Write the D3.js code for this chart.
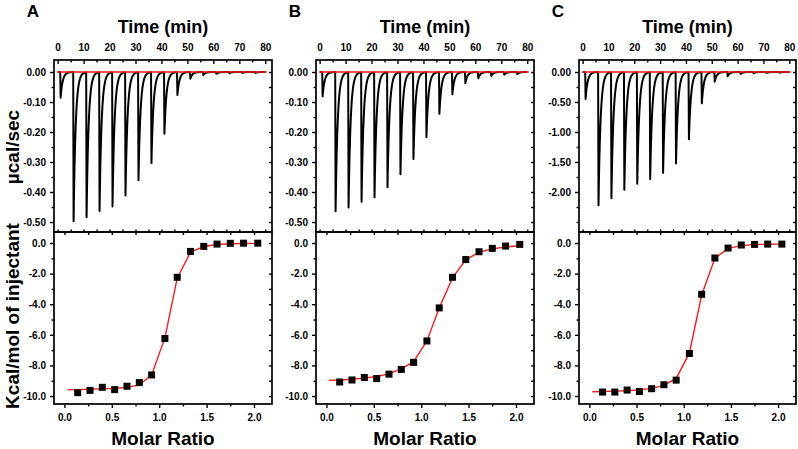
<!DOCTYPE html>
<html><head><meta charset="utf-8">
<script src="https://cdn.jsdelivr.net/npm/d3@7"></script>
<style>
body{margin:0;background:#fff}
svg{display:block}
text{font-family:"Liberation Sans",Arial,Helvetica,sans-serif;font-weight:bold;fill:#000}
</style>
</head><body>
<svg id="chart" width="798" height="449"></svg>
<script>
// ---------- data ----------
const panelLabels = ["A", "B", "C"];
const injectionTimes = [1, 6, 11, 16, 21, 26, 31, 36, 41, 46, 51, 56, 61, 66, 71, 76];
const peaksA = [-0.086, -0.497, -0.483, -0.462, -0.447, -0.411, -0.360, -0.303, -0.205, -0.076, -0.022, -0.010, -0.006, -0.004, -0.003, -0.003];
const peaksB = [-0.081, -0.464, -0.451, -0.432, -0.417, -0.383, -0.340, -0.289, -0.217, -0.139, -0.074, -0.037, -0.021, -0.013, -0.009, -0.007];
const peaksC = [-0.45, -2.22, -2.10, -1.96, -1.86, -1.78, -1.68, -1.52, -1.12, -0.52, -0.16, -0.07, -0.035, -0.02, -0.015, -0.01];
const molarRatio = [0.14, 0.27, 0.40, 0.53, 0.66, 0.79, 0.92, 1.06, 1.19, 1.33, 1.47, 1.61, 1.75, 1.89, 2.04];
const heatA = [-9.78, -9.63, -9.43, -9.58, -9.36, -9.12, -8.62, -6.24, -2.24, -0.55, -0.22, -0.07, -0.02, -0.01, -0.01];
const heatB = [-9.08, -8.95, -8.79, -8.86, -8.57, -8.26, -7.80, -6.40, -4.24, -2.24, -1.08, -0.57, -0.35, -0.20, -0.09];
const heatC = [-9.74, -9.74, -9.61, -9.70, -9.52, -9.26, -8.96, -7.22, -3.35, -0.98, -0.33, -0.13, -0.09, -0.07, -0.07];
const fitX = [0.03, 0.14, 0.27, 0.40, 0.53, 0.66, 0.79, 0.92, 1.06, 1.19, 1.33, 1.47, 1.61, 1.75, 1.89, 2.04];
const fitA = [-9.60, -9.58, -9.56, -9.53, -9.50, -9.43, -9.27, -8.62, -6.20, -2.30, -0.60, -0.23, -0.10, -0.05, -0.03, -0.02];
const fitB = [-8.97, -8.95, -8.90, -8.83, -8.72, -8.55, -8.22, -7.75, -6.40, -4.25, -2.28, -1.10, -0.60, -0.38, -0.26, -0.18];
const fitC = [-9.72, -9.70, -9.68, -9.65, -9.60, -9.50, -9.30, -8.85, -7.20, -3.40, -1.00, -0.35, -0.17, -0.10, -0.08, -0.07];
const timeTicks = [0, 10, 20, 30, 40, 50, 60, 70, 80];
const powerTicksAB = [0, -0.1, -0.2, -0.3, -0.4, -0.5];
const powerTicksC = [0, -0.5, -1.0, -1.5, -2.0];
const heatTicks = [0, -2, -4, -6, -8, -10];
const molarTicks = [0, 0.5, 1.0, 1.5, 2.0];

const panels = [
  {label: panelLabels[0], peaks: peaksA, heat: heatA, fit: fitA, pTicks: powerTicksAB, pDom: [0.04, -0.5333], pStep: 0.05},
  {label: panelLabels[1], peaks: peaksB, heat: heatB, fit: fitB, pTicks: powerTicksAB, pDom: [0.04, -0.5333], pStep: 0.05},
  {label: panelLabels[2], peaks: peaksC, heat: heatC, fit: fitC, pTicks: powerTicksC, pDom: [0.2, -2.667], pStep: 0.25}
];

// ---------- layout ----------
const boxX = [[54, 272], [316, 534], [579, 796]];
const topY = [60, 232], botY = [232, 404];
const svg = d3.select("#chart");

function styleAxis(g) {
  g.select(".domain").remove();
  g.selectAll("line").attr("stroke", "#000").attr("stroke-width", 1.4);
  g.selectAll("text").style("font-size", "10px").style("font-weight", "bold").attr("fill", "#000");
}
const rng = (a, b, s) => d3.range(Math.round((b - a) / s) + 1).map(i => +(a + i * s).toFixed(4));

panels.forEach((p, i) => {
  const [x0, x1] = boxX[i];
  const xT = d3.scaleLinear([-1.4, 82.6], [x0, x1]);
  const yP = d3.scaleLinear(p.pDom, topY);
  const xM = d3.scaleLinear([-0.11, 2.19], [x0, x1]);
  const yH = d3.scaleLinear([0.72, -10.52], botY);
  const g = svg.append("g");

  // ----- top panel axes -----
  g.append("g").attr("transform", `translate(0,${topY[0]})`)
    .call(d3.axisTop(xT).tickValues(timeTicks).tickSize(-4).tickPadding(9).tickFormat(d => d)).call(styleAxis);
  g.append("g").attr("transform", `translate(0,${topY[0]})`)
    .call(d3.axisTop(xT).tickValues(rng(5, 75, 10)).tickSize(-2.5).tickFormat("")).call(styleAxis);
  g.append("g").attr("transform", `translate(0,${topY[1]})`)
    .call(d3.axisBottom(xT).tickValues(rng(0, 80, 5)).tickSize(-2.5).tickFormat("")).call(styleAxis);
  g.append("g").attr("transform", `translate(${x0},0)`)
    .call(d3.axisLeft(yP).tickValues(p.pTicks).tickSize(4).tickPadding(4).tickFormat(d => d.toFixed(2))).call(styleAxis);
  const pMin = rng(p.pTicks[p.pTicks.length - 1] - p.pStep * 2, 0, p.pStep).filter(v => yP(v) < topY[1] - 1 && !p.pTicks.some(t => Math.abs(t - v) < 1e-6));
  g.append("g").attr("transform", `translate(${x0},0)`)
    .call(d3.axisLeft(yP).tickValues(pMin).tickSize(2.5).tickFormat("")).call(styleAxis);
  g.append("g").attr("transform", `translate(${x1},0)`)
    .call(d3.axisRight(yP).tickValues(rng(p.pTicks[p.pTicks.length - 1] - p.pStep * 2, 0, p.pStep).filter(v => yP(v) < topY[1] - 1)).tickSize(-3).tickFormat("")).call(styleAxis);

  // thermogram trace (shape built around the read peak depths)
  const tSamples = rng(0, 80, 0.05);
  const trace = tSamples.map(t => {
    let v = 0;
    injectionTimes.forEach((ti, k) => {
      const dt = t - ti;
      if (dt < 0) return;
      v += dt < 0.15 ? p.peaks[k] * dt / 0.15 : p.peaks[k] * Math.exp(-(dt - 0.15) / 0.8);
    });
    return [t, v];
  });
  g.append("path").datum(trace)
    .attr("d", d3.line().x(d => xT(d[0])).y(d => yP(d[1])))
    .attr("fill", "none").attr("stroke", "#000").attr("stroke-width", 2).attr("stroke-linejoin", "round");
  g.append("path").datum([[0, 0], [80.6, 0]])
    .attr("d", d3.line().x(d => xT(d[0])).y(d => yP(d[1])))
    .attr("stroke", "#ff1a1a").attr("stroke-width", 1.6);

  // ----- bottom panel axes -----
  g.append("g").attr("transform", `translate(0,${botY[1]})`)
    .call(d3.axisBottom(xM).tickValues(molarTicks).tickSize(4).tickPadding(6).tickFormat(d => d.toFixed(1))).call(styleAxis);
  g.append("g").attr("transform", `translate(0,${botY[1]})`)
    .call(d3.axisBottom(xM).tickValues([0.25, 0.75, 1.25, 1.75]).tickSize(2.5).tickFormat("")).call(styleAxis);
  g.append("g").attr("transform", `translate(0,${botY[0]})`)
    .call(d3.axisTop(xM).tickValues(rng(0, 2, 0.25)).tickSize(-3).tickFormat("")).call(styleAxis);
  g.append("g").attr("transform", `translate(${x0},0)`)
    .call(d3.axisLeft(yH).tickValues(heatTicks).tickSize(4).tickPadding(4).tickFormat(d => d.toFixed(1))).call(styleAxis);
  g.append("g").attr("transform", `translate(${x0},0)`)
    .call(d3.axisLeft(yH).tickValues([-1, -3, -5, -7, -9]).tickSize(2.5).tickFormat("")).call(styleAxis);
  g.append("g").attr("transform", `translate(${x1},0)`)
    .call(d3.axisRight(yH).tickValues(rng(-10, 0, 1)).tickSize(-3).tickFormat("")).call(styleAxis);

  // fit line and data squares
  g.append("path").datum(fitX.map((x, k) => [x, p.fit[k]]))
    .attr("d", d3.line().x(d => xM(d[0])).y(d => yH(d[1])))
    .attr("fill", "none").attr("stroke", "#ff1a1a").attr("stroke-width", 1.4);
  g.selectAll("rect.pt").data(molarRatio.map((x, k) => [x, p.heat[k]])).join("rect")
    .attr("class", "pt")
    .attr("x", d => xM(d[0]) - 3.5).attr("y", d => yH(d[1]) - 3.5)
    .attr("width", 7).attr("height", 7).attr("fill", "#000");

  // frames
  [topY, botY].forEach(([y0, y1]) => {
    g.append("rect").attr("x", x0).attr("y", y0).attr("width", x1 - x0).attr("height", y1 - y0)
      .attr("fill", "none").attr("stroke", "#000").attr("stroke-width", 1.7);
  });

  // titles
  g.append("text").attr("x", x0 - 21).attr("y", 17).attr("text-anchor", "middle")
    .style("font-size", "17px").text(p.label);
  g.append("text").attr("x", (x0 + x1) / 2).attr("y", 33).attr("text-anchor", "middle")
    .style("font-size", "18px").text("Time (min)");
  g.append("text").attr("x", (x0 + x1) / 2).attr("y", 445).attr("text-anchor", "middle")
    .style("font-size", "19px").text("Molar Ratio");
});

svg.append("text").attr("transform", "translate(19,147) rotate(-90)").attr("text-anchor", "middle")
  .style("font-size", "19px").text("µcal/sec");
svg.append("text").attr("transform", "translate(19,316) rotate(-90)").attr("text-anchor", "middle")
  .style("font-size", "19px").text("Kcal/mol of injectant");
</script>
</body></html>
